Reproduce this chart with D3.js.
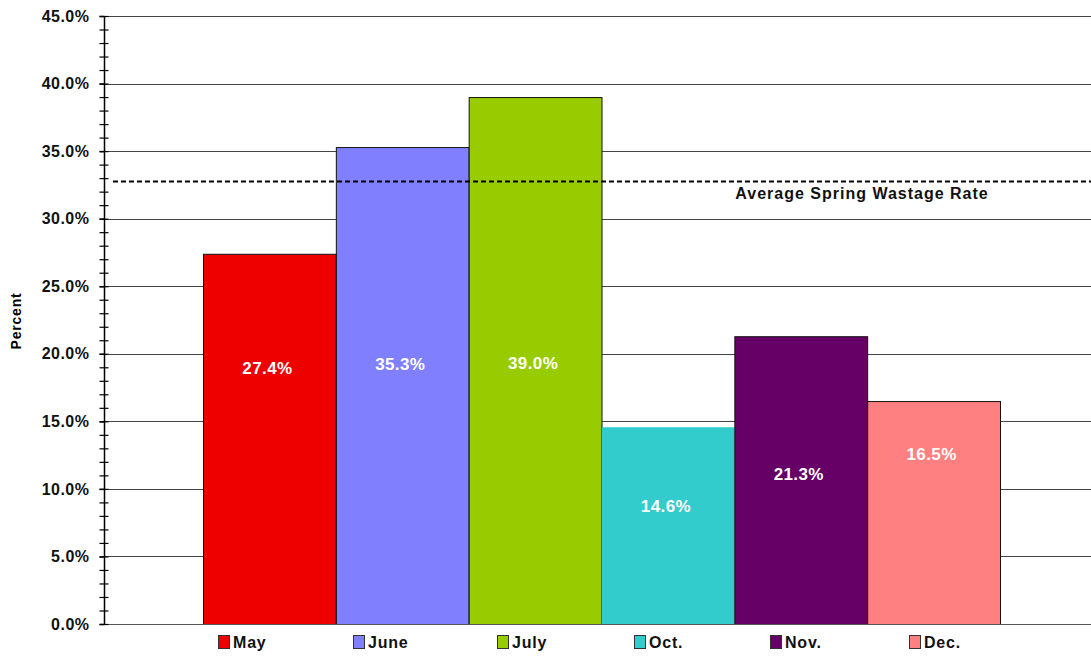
<!DOCTYPE html>
<html>
<head>
<meta charset="utf-8">
<script src="https://cdn.jsdelivr.net/npm/d3@7/dist/d3.min.js"></script>
<style>
  html, body { margin: 0; padding: 0; background: #fff; }
  svg { display: block; font-family: "Liberation Sans", Arial, sans-serif; }
</style>
</head>
<body>
<svg id="chart" width="1091" height="656"></svg>
<script>
// Monthly wastage rates (%)
const months = ["May", "June", "July", "Oct.", "Nov.", "Dec."];
const rates = [27.4, 35.3, 39.0, 14.6, 21.3, 16.5];
const colors = ["#EE0000", "#8080FF", "#99CC00", "#33CCCC", "#660066", "#FF8080"];
// Height (in %) at which each value label sits inside its bar
const labelAt = [18.8, 19.1, 19.2, 8.6, 11.0, 12.5];
const averageSpring = 32.8;
const yTicks = [0, 5, 10, 15, 20, 25, 30, 35, 40, 45];
const yMinorTicks = d3.range(0, 46, 1);

const svg = d3.select("#chart");
const plot = { left: 104, right: 1091, top: 16, bottom: 624 };

const y = d3.scaleLinear().domain([0, 45]).range([plot.bottom, plot.top]);
const x = d3.scaleBand().domain(months).range([203, 1000]).paddingInner(0).paddingOuter(0);

// Horizontal gridlines
svg.append("g")
  .selectAll("line")
  .data(yTicks.filter(d => d > 0))
  .join("line")
  .attr("x1", plot.left).attr("x2", plot.right)
  .attr("y1", d => Math.round(y(d)) + 0.5).attr("y2", d => Math.round(y(d)) + 0.5)
  .attr("stroke", "#444").attr("stroke-width", 1);

// Bars
svg.append("g")
  .selectAll("rect")
  .data(months)
  .join("rect")
  .attr("x", d => x(d) + 0.5)
  .attr("y", (d, i) => y(rates[i]) + 0.5)
  .attr("width", x.bandwidth())
  .attr("height", (d, i) => y(0) - y(rates[i]))
  .attr("fill", (d, i) => colors[i])
  .attr("stroke", (d, i) => i === 3 ? "none" : "#111")
  .attr("stroke-width", 1);

// Value labels
svg.append("g")
  .selectAll("text")
  .data(months)
  .join("text")
  .attr("x", d => x(d) + x.bandwidth() / 2 - 2)
  .attr("y", (d, i) => y(labelAt[i]))
  .attr("text-anchor", "middle")
  .attr("dominant-baseline", "middle")
  .attr("fill", "#fff")
  .attr("font-weight", "bold")
  .attr("font-size", 17)
  .attr("letter-spacing", 0.4)
  .text((d, i) => rates[i].toFixed(1) + "%");

// Average spring wastage line
svg.append("line")
  .attr("x1", 113).attr("x2", plot.right)
  .attr("y1", Math.round(y(averageSpring)) + 0.5).attr("y2", Math.round(y(averageSpring)) + 0.5)
  .attr("stroke", "#000").attr("stroke-width", 2)
  .attr("stroke-dasharray", "5,3");
svg.append("text")
  .attr("x", 862).attr("y", y(averageSpring) + 18)
  .attr("text-anchor", "middle")
  .attr("font-weight", "bold").attr("font-size", 16)
  .attr("letter-spacing", 1)
  .attr("fill", "#111")
  .text("Average Spring Wastage Rate");

// Bottom axis line
svg.append("line")
  .attr("x1", plot.left).attr("x2", plot.right)
  .attr("y1", plot.bottom + 0.5).attr("y2", plot.bottom + 0.5)
  .attr("stroke", "#555").attr("stroke-width", 1);

// Y axis with minor ticks
const yAxisMinor = d3.axisLeft(y).tickValues(yMinorTicks).tickSize(4).tickFormat("");
svg.append("g")
  .attr("transform", `translate(${plot.left + 4.5},0)`)
  .call(yAxisMinor)
  .call(g => g.select(".domain").remove())
  .call(g => g.selectAll("line").attr("x1", -9).attr("x2", 0).attr("stroke", "#000").attr("stroke-width", 1.2));

const yAxis = d3.axisLeft(y).tickValues(yTicks).tickSize(5).tickPadding(10)
  .tickFormat(d => d.toFixed(1) + "%");
svg.append("g")
  .attr("transform", `translate(${plot.left + 0.5},0)`)
  .call(yAxis)
  .call(g => g.select(".domain").attr("stroke", "#000").attr("stroke-width", 1.5).attr("d", `M0,${plot.top}V${plot.bottom}`))
  .call(g => g.selectAll(".tick line").attr("stroke", "#000").attr("stroke-width", 1.5))
  .call(g => g.selectAll(".tick text")
    .attr("font-family", "'Liberation Sans', Arial, sans-serif")
    .attr("font-weight", "bold").attr("font-size", 16).attr("letter-spacing", 0.5).attr("fill", "#111"));

// Y axis title
svg.append("text")
  .attr("transform", `translate(21,321) rotate(-90)`)
  .attr("text-anchor", "middle")
  .attr("font-weight", "bold").attr("font-size", 14)
  .attr("letter-spacing", 0.8)
  .text("Percent");

// Legend
const legendX = [218, 353, 497, 634, 770, 909];
const legend = svg.append("g").selectAll("g")
  .data(months)
  .join("g")
  .attr("transform", (d, i) => `translate(${legendX[i]},635)`);
legend.append("rect")
  .attr("x", 0.5).attr("y", 0.5).attr("width", 11).attr("height", 13)
  .attr("fill", (d, i) => colors[i]).attr("stroke", "#333");
legend.append("text")
  .attr("x", 15).attr("y", 13)
  .attr("font-weight", "bold").attr("font-size", 16).attr("letter-spacing", 0.8).attr("fill", "#111")
  .text(d => d);
</script>
</body>
</html>
